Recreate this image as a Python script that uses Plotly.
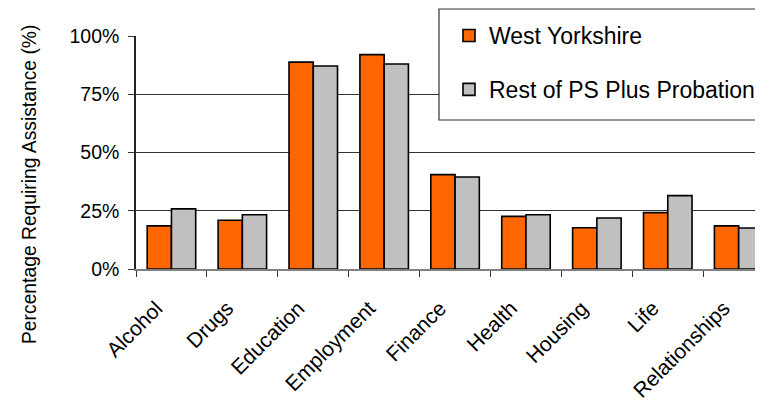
import plotly.graph_objects as go

categories = ["Alcohol", "Drugs", "Education", "Employment", "Finance",
              "Health", "Housing", "Life", "Relationships"]
west_yorkshire = [18.5, 20.9, 88.8, 92.0, 40.5, 22.6, 17.7, 24.2, 18.5]
rest_of_ps = [25.8, 23.3, 87.1, 88.0, 39.5, 23.3, 21.9, 31.5, 17.6]
y_ticks = [0, 25, 50, 75, 100]

FONT = "Liberation Sans, Arial, sans-serif"

fig = go.Figure()
fig.add_trace(go.Bar(x=categories, y=west_yorkshire, name="West Yorkshire",
                     marker=dict(color="#FF6600", line=dict(color="black", width=1.6)),
                     legendgroup="a"))
fig.add_trace(go.Bar(x=categories, y=rest_of_ps, name="Rest of PS Plus Probation",
                     marker=dict(color="#C0C0C0", line=dict(color="black", width=1.6)),
                     legendgroup="b"))

# the page body has an 8px margin, so the figure is made 8px smaller
OFF = 8
W, H = 763 - OFF, 409 - OFF
PL, PR, PT, PB = 136, 763, 36, 269       # plot area in page pixels
L, T = PL - OFF, PT - OFF
R = W - (PR - OFF)
B = H - (PB - OFF)
pw, ph = PR - PL, PB - PT

def px_x(x):
    return (x - PL) / pw

def px_y(y):
    return (PB - y) / ph

fig.add_shape(type="rect", xref="paper", yref="paper",
              x0=px_x(439), x1=px_x(790), y0=px_y(120), y1=px_y(9),
              line=dict(color="#333333", width=1.2), fillcolor="white", layer="above")

fig.add_annotation(text="Percentage Requiring Assistance (%)", textangle=-90,
                   xref="paper", yref="paper", x=px_x(29), y=px_y(185),
                   xanchor="center", yanchor="middle", showarrow=False,
                   font=dict(family=FONT, size=19.3, color="black"))

fig.update_layout(
    width=W, height=H,
    margin=dict(l=L, r=R, t=T, b=B, pad=0, autoexpand=False),
    paper_bgcolor="white", plot_bgcolor="white",
    barmode="group", bargap=0.316, bargroupgap=0,
    font=dict(family=FONT, size=19.5, color="black"),
    legend=dict(x=px_x(449), y=px_y(14), xanchor="left", yanchor="top",
                bgcolor="rgba(0,0,0,0)", borderwidth=0,
                font=dict(family=FONT, size=23, color="black"),
                tracegroupgap=21, traceorder="grouped"),
    showlegend=True,
)
fig.update_xaxes(range=[-0.5, 8.343], tickangle=-45, ticks="outside", ticklen=6,
                 tickson="boundaries", tickcolor="#333333", showline=True,
                 linecolor="#808080", linewidth=1.5, showgrid=False,
                 ticklabelshift=-15, ticklabelstandoff=17,
                 tickfont=dict(family=FONT, size=21, color="black"))
fig.update_yaxes(range=[0, 100], tickvals=y_ticks, ticktext=[f"{v}%" for v in y_ticks],
                 ticks="outside", ticklen=6, tickcolor="#333333", showline=True,
                 linecolor="#222222", linewidth=1.5, showgrid=True,
                 gridcolor="#333333", gridwidth=1, zeroline=False,
                 ticklabelstandoff=5,
                 tickfont=dict(family=FONT, size=19.5, color="black"))

fig.write_html("out.html")
